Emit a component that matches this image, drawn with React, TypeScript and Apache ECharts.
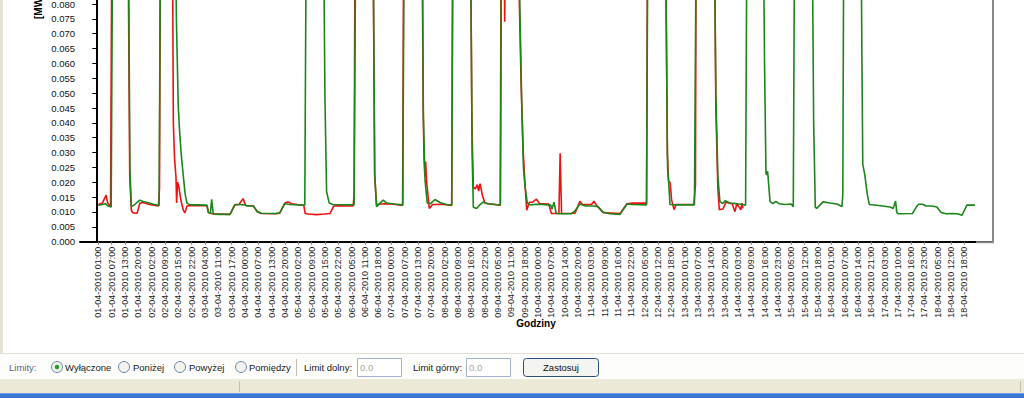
import React, { useEffect, useRef } from "react";
import * as echarts from "echarts";

const tickLabels: string[] = [
  "01-04-2010 01:00", "01-04-2010 07:00", "01-04-2010 13:00", "01-04-2010 20:00",
  "02-04-2010 02:00", "02-04-2010 09:00", "02-04-2010 15:00", "02-04-2010 22:00",
  "03-04-2010 04:00", "03-04-2010 11:00", "03-04-2010 17:00", "04-04-2010 00:00",
  "04-04-2010 07:00", "04-04-2010 13:00", "04-04-2010 20:00", "05-04-2010 02:00",
  "05-04-2010 09:00", "05-04-2010 15:00", "05-04-2010 22:00", "06-04-2010 05:00",
  "06-04-2010 11:00", "06-04-2010 18:00", "07-04-2010 00:00", "07-04-2010 07:00",
  "07-04-2010 13:00", "07-04-2010 20:00", "08-04-2010 02:00", "08-04-2010 09:00",
  "08-04-2010 16:00", "08-04-2010 22:00", "09-04-2010 05:00", "09-04-2010 11:00",
  "09-04-2010 18:00", "10-04-2010 00:00", "10-04-2010 07:00", "10-04-2010 14:00",
  "10-04-2010 20:00", "11-04-2010 03:00", "11-04-2010 09:00", "11-04-2010 16:00",
  "11-04-2010 22:00", "12-04-2010 05:00", "12-04-2010 12:00", "12-04-2010 18:00",
  "13-04-2010 01:00", "13-04-2010 07:00", "13-04-2010 14:00", "13-04-2010 20:00",
  "14-04-2010 03:00", "14-04-2010 09:00", "14-04-2010 16:00", "14-04-2010 23:00",
  "15-04-2010 05:00", "15-04-2010 12:00", "15-04-2010 18:00", "16-04-2010 01:00",
  "16-04-2010 07:00", "16-04-2010 14:00", "16-04-2010 21:00", "17-04-2010 03:00",
  "17-04-2010 10:00", "17-04-2010 16:00", "17-04-2010 23:00", "18-04-2010 05:00",
  "18-04-2010 12:00", "18-04-2010 18:00",
];

// [hour since 01-04-2010 00:00, MW]
const greenSeries: [number, number][] = [
  [1, 0.0123], [3, 0.0125], [4.5, 0.0128], [5.5, 0.0121], [7.3, 0.0117], [8.2, 0.13],
  [15.5, 0.13], [16.5, 0.024], [17.2, 0.0118], [18.5, 0.0123], [20, 0.0132], [21.4, 0.014], [23, 0.0135], [26, 0.013], [28, 0.0126], [30.8, 0.0122], [31.7, 0.13],
  [38.5, 0.13], [39.3, 0.075], [40.2, 0.046], [40.8, 0.038], [41.6, 0.03], [42.7, 0.022], [43.6, 0.016], [44.5, 0.013], [46, 0.0124], [50, 0.0124], [54.3, 0.0123], [55, 0.0099], [56, 0.0096], [56.6, 0.0143], [57.4, 0.0093], [60, 0.0092], [65.6, 0.0092], [68, 0.0125], [70, 0.0125], [73, 0.0124], [74, 0.012], [77, 0.012], [79, 0.0102], [81, 0.0096], [88, 0.0095], [90, 0.0097], [92.5, 0.0128], [95, 0.0125], [102.3, 0.0123], [103.2, 0.13],
  [111.2, 0.13], [112.2, 0.048], [113, 0.0168], [114.3, 0.013], [116, 0.0125], [126.5, 0.0124], [127.5, 0.13],
  [135.6, 0.13], [136.6, 0.023], [137.5, 0.0118], [139, 0.0128], [140.8, 0.014], [142.5, 0.013], [146, 0.0127], [150.4, 0.0124], [151.2, 0.13],
  [159.7, 0.13], [160.5, 0.042], [161.3, 0.0207], [162.4, 0.013], [164, 0.0128], [166.2, 0.0142], [168.6, 0.0132], [171.9, 0.0125], [174.4, 0.0124], [175.2, 0.13],
  [183.4, 0.13], [184.4, 0.03], [185, 0.0116], [186.6, 0.0112], [188, 0.0123], [189.9, 0.0134], [192, 0.0128], [196, 0.0125], [198.3, 0.0124], [199, 0.13],
  [207, 0.13], [207.8, 0.08], [208.8, 0.045], [209.6, 0.025], [210.3, 0.019], [211.5, 0.013], [213, 0.0124], [216, 0.0126], [219, 0.0125], [223, 0.0123], [223.6, 0.011], [224.6, 0.0133], [225.7, 0.0095], [227, 0.0094], [233, 0.0094], [235, 0.0105], [237.3, 0.0127], [240, 0.012], [244, 0.012], [246.2, 0.0118], [248.6, 0.01], [252, 0.0094], [257, 0.0092], [260.4, 0.0127], [263, 0.0125], [270, 0.0124], [270.8, 0.13],
  [279, 0.13], [280.3, 0.025], [280.9, 0.0195], [281.5, 0.0125], [285, 0.0124], [293.5, 0.0124], [294.6, 0.13],
  [303, 0.13], [304, 0.05], [305, 0.0218], [306, 0.0135], [307.5, 0.0128], [308.5, 0.0138], [311, 0.013], [314, 0.0128], [317, 0.0125], [318.6, 0.0123], [319.4, 0.13],
  [327, 0.13], [327.9, 0.06], [328.6, 0.023], [329, 0.0225], [329.4, 0.0237], [330.6, 0.0135], [332, 0.0128], [333.5, 0.0136], [335, 0.0128], [338, 0.0125], [341, 0.0127], [342, 0.0118], [342.8, 0.13],
  [351, 0.13], [352, 0.04], [352.8, 0.0116], [353.5, 0.0112], [356.6, 0.0134], [360, 0.013], [363.3, 0.0127], [364.9, 0.0122], [365.9, 0.0118], [366.3, 0.016], [366.9, 0.13],
  [375, 0.13], [375.7, 0.06], [376.1, 0.026], [377.1, 0.0225], [378.3, 0.016], [379.3, 0.0125], [384, 0.0122], [389.5, 0.0117], [391, 0.0112], [392.2, 0.0137], [392.8, 0.0098], [393.6, 0.0094], [400.5, 0.0095], [402.5, 0.0118], [403.5, 0.0126], [405.6, 0.0126], [407, 0.012], [410, 0.012], [412.5, 0.0117], [414.5, 0.0098], [417, 0.0094], [420, 0.0095], [423, 0.0093], [424.8, 0.0089], [427.2, 0.0123], [431.2, 0.0123],
];

const redSeries: [number, number][] = [
  [1, 0.0125], [3, 0.013], [4.8, 0.0157], [5.6, 0.013], [7, 0.0118], [7.8, 0.13],
  [15.3, 0.13], [16.4, 0.022], [17.2, 0.0105], [18, 0.0097], [20, 0.0096], [21.4, 0.013], [23, 0.0132], [26, 0.0125], [30.5, 0.012], [31, 0.018], [31.6, 0.13],
  [37.2, 0.13], [37.8, 0.04], [38.4, 0.028], [39.1, 0.0217], [39.4, 0.013], [39.9, 0.02], [40.5, 0.0185], [41.5, 0.014], [42.7, 0.0106], [43.5, 0.0097], [44.5, 0.012], [46, 0.0122], [54.3, 0.0121], [55, 0.0098], [57, 0.0094], [65.6, 0.0092], [68, 0.0124], [70, 0.0125], [72, 0.0145], [73.3, 0.0122], [77, 0.0121], [79, 0.0101], [81, 0.0095], [88, 0.0094], [90, 0.0096], [92.5, 0.013], [94, 0.0134], [96, 0.0128], [101.8, 0.0122], [102.5, 0.0095], [104, 0.0093], [108, 0.0091], [112, 0.0093], [114.7, 0.0095], [116.5, 0.012], [119, 0.0121], [126, 0.012], [126.5, 0.0155], [127.1, 0.13],
  [135.5, 0.13], [136.6, 0.022], [137.5, 0.0125], [140, 0.0127], [142.5, 0.0128], [146, 0.0126], [150.3, 0.0122], [151, 0.13],
  [159.6, 0.13], [160.4, 0.045], [160.8, 0.0285], [161.2, 0.022], [161.6, 0.027], [162.1, 0.02], [163.4, 0.0112], [165, 0.0125], [170, 0.0126], [174.4, 0.0122], [175, 0.13],
  [183.3, 0.13], [184.3, 0.04], [185, 0.0184], [186, 0.0178], [187, 0.0192], [187.6, 0.017], [188.3, 0.0195], [189.5, 0.0155], [190.7, 0.013], [193, 0.0127], [198.2, 0.0123], [198.8, 0.13], [199.8, 0.13], [200.4, 0.074], [201, 0.13],
  [206.8, 0.13], [207.6, 0.08], [208.5, 0.052], [209.5, 0.03], [210.3, 0.02], [211.2, 0.0106], [212.5, 0.0133], [214, 0.0133], [216, 0.0143], [217.5, 0.0128], [222, 0.0127], [223.3, 0.0095], [227, 0.0095], [227.6, 0.0298], [228.3, 0.0095], [234.9, 0.0096], [237.3, 0.0136], [238.5, 0.0125], [243, 0.0125], [244.2, 0.0136], [245.5, 0.0122], [248.6, 0.0098], [257, 0.0095], [260.4, 0.0128], [263, 0.013], [270, 0.013], [270.6, 0.13],
  [279, 0.13], [280.2, 0.03], [280.8, 0.0205], [281.6, 0.0198], [282.3, 0.014], [283.5, 0.0108], [284.5, 0.0125], [293.2, 0.0125], [294, 0.019], [294.4, 0.13],
  [303, 0.13], [304, 0.045], [305, 0.018], [305.7, 0.0108], [307.5, 0.011], [309, 0.0133], [312, 0.0128], [313.4, 0.0101], [314.3, 0.0128], [316.3, 0.0107], [316.8, 0.013], [317.3, 0.0112],
];

const firstLabelHour = 1;
const lastLabelHour = 426;
const labelStep = (lastLabelHour - firstLabelHour) / (tickLabels.length - 1);
const labelPositions = tickLabels.map((_, i) => firstLabelHour + i * labelStep);
const visibleYMax = 0.0801;

const FONT = "'Liberation Sans', Arial, sans-serif";

function toolbarGraphics(): any[] {
  const cy = 367;
  const els: any[] = [];
  els.push({ type: "rect", shape: { x: 0, y: 353, width: 1024, height: 26 }, style: { fill: "#fdfdfb" }, z: 5 });
  els.push({ type: "line", shape: { x1: 0, y1: 353.5, x2: 1024, y2: 353.5 }, style: { stroke: "#e2e0d6", lineWidth: 1 }, z: 6 });
  const txt = (t: string, x: number, fill = "#1a1a1a") => ({
    type: "text", x, y: cy, z: 7,
    style: { text: t, fill, fontSize: 9.5, fontFamily: FONT, align: "left", verticalAlign: "middle" },
  });
  els.push(txt("Limity:", 9, "#56698b"));
  const radios: [number, string, number, boolean][] = [
    [57, "Wyłączone", 65, true],
    [124, "Poniżej", 133, false],
    [180, "Powyżej", 189, false],
    [241, "Pomiędzy", 249, false],
  ];
  radios.forEach(([cx, label, tx, checked]) => {
    els.push({ type: "circle", shape: { cx, cy, r: 5.5 }, style: { fill: "#f2f2ee", stroke: "#6b86a8", lineWidth: 1 }, z: 7 });
    if (checked) els.push({ type: "circle", shape: { cx, cy, r: 2.3 }, style: { fill: "#2a9f2a" }, z: 8 });
    els.push(txt(label, tx));
  });
  els.push({ type: "line", shape: { x1: 296.5, y1: 359, x2: 296.5, y2: 376 }, style: { stroke: "#c0bdb0", lineWidth: 1 }, z: 7 });
  els.push(txt("Limit dolny:", 304));
  els.push({ type: "rect", shape: { x: 357.5, y: 358.5, width: 44, height: 18 }, style: { fill: "#ffffff", stroke: "#9fb4cc", lineWidth: 1 }, z: 7 });
  els.push(txt("0.0", 360, "#a8a8a0"));
  els.push(txt("Limit górny:", 413));
  els.push({ type: "rect", shape: { x: 466.5, y: 358.5, width: 44, height: 18 }, style: { fill: "#ffffff", stroke: "#9fb4cc", lineWidth: 1 }, z: 7 });
  els.push(txt("0.0", 469, "#a8a8a0"));
  els.push({ type: "rect", shape: { x: 523.5, y: 358.5, width: 75, height: 18, r: 3 }, style: { fill: "#f4f4f1", stroke: "#2b4f7e", lineWidth: 1 }, z: 7 });
  els.push({
    type: "text", x: 561, y: cy, z: 8,
    style: { text: "Zastosuj", fill: "#111", fontSize: 9.5, fontFamily: FONT, align: "center", verticalAlign: "middle" },
  });
  els.push({ type: "rect", shape: { x: 0, y: 379, width: 1024, height: 14 }, style: { fill: "#ece9d8" }, z: 5 });
  els.push({ type: "line", shape: { x1: 239.5, y1: 381, x2: 239.5, y2: 392 }, style: { stroke: "#c5c2b2", lineWidth: 1 }, z: 6 });
  els.push({ type: "line", shape: { x1: 1020.5, y1: 381, x2: 1020.5, y2: 392 }, style: { stroke: "#c5c2b2", lineWidth: 1 }, z: 6 });
  els.push({ type: "rect", shape: { x: 0, y: 393, width: 1024, height: 5 }, style: { fill: "#3b78d5" }, z: 5 });
  els.push({ type: "line", shape: { x1: 0, y1: 393.5, x2: 1024, y2: 393.5 }, style: { stroke: "#6e9fe6", lineWidth: 1 }, z: 6 });
  return els;
}

export default function App() {
  const ref = useRef<HTMLDivElement>(null);
  useEffect(() => {
    document.body.style.margin = "0";
    const chart = echarts.init(ref.current!, null, { renderer: "svg" });
    const bottomY = 241.7;
    const pxPerUnit = 2971;
    const yMax = 0.16;
    const gridHeight = yMax * pxPerUnit;
    chart.setOption({
      animation: false,
      backgroundColor: "#ffffff",
      grid: {
        left: 80,
        right: 31,
        top: bottomY - gridHeight,
        height: gridHeight,
        outerBoundsMode: "none",
        containLabel: false,
      },
      xAxis: {
        type: "value",
        min: -8,
        max: 440,
        axisLine: { show: true, lineStyle: { color: "#000", width: 2 } },
        axisTick: { show: true, customValues: labelPositions, length: 3, lineStyle: { color: "#808080" } },
        axisLabel: {
          customValues: labelPositions,
          rotate: 90,
          margin: 5,
          fontSize: 9,
          fontFamily: FONT,
          color: "#222",
          formatter: (v: number) => tickLabels[Math.round((v - firstLabelHour) / labelStep)] ?? "",
        },
        splitLine: { show: false },
      },
      yAxis: {
        type: "value",
        min: 0,
        max: yMax,
        interval: 0.005,
        axisLine: { show: true, lineStyle: { color: "#000", width: 2 } },
        axisTick: { show: true, length: 4, lineStyle: { color: "#000" } },
        axisLabel: {
          formatter: (v: number) => (v <= visibleYMax ? v.toFixed(3) : ""),
          fontSize: 9.5,
          fontFamily: FONT,
          color: "#111",
          margin: 5,
        },
        splitLine: { show: false },
      },
      series: [
        {
          name: "red",
          type: "line",
          data: redSeries,
          showSymbol: false,
          symbol: "none",
          clip: true,
          lineStyle: { color: "#ee1111", width: 1.6 },
          z: 2,
        },
        {
          name: "green",
          type: "line",
          data: greenSeries,
          showSymbol: false,
          symbol: "none",
          clip: true,
          lineStyle: { color: "#1b861b", width: 1.6 },
          z: 3,
        },
      ],
      graphic: [
        { type: "rect", shape: { x: 0, y: 0, width: 3, height: 353 }, style: { fill: "#e6e3d5" }, z: 5 },
        {
          type: "polyline",
          shape: { points: [[976, 242.2], [993, 242.2], [993, -5]] },
          style: { stroke: "#8a8a8a", lineWidth: 2, fill: null },
          z: 10,
        },
        {
          type: "text",
          x: 38.5,
          y: 19,
          rotation: Math.PI / 2,
          style: { text: "[MW]", fill: "#000", fontSize: 10, fontWeight: "bold", fontFamily: FONT, align: "left", verticalAlign: "middle" },
          z: 10,
        },
        {
          type: "text",
          x: 536,
          y: 323,
          style: { text: "Godziny", fill: "#000", fontSize: 10, fontWeight: "bold", fontFamily: FONT, align: "center", verticalAlign: "middle" },
          z: 10,
        },
        ...toolbarGraphics(),
      ],
    });
    return () => chart.dispose();
  }, []);
  return <div ref={ref} style={{ position: "absolute", left: 0, top: 0, width: 1024, height: 398 }} />;
}
